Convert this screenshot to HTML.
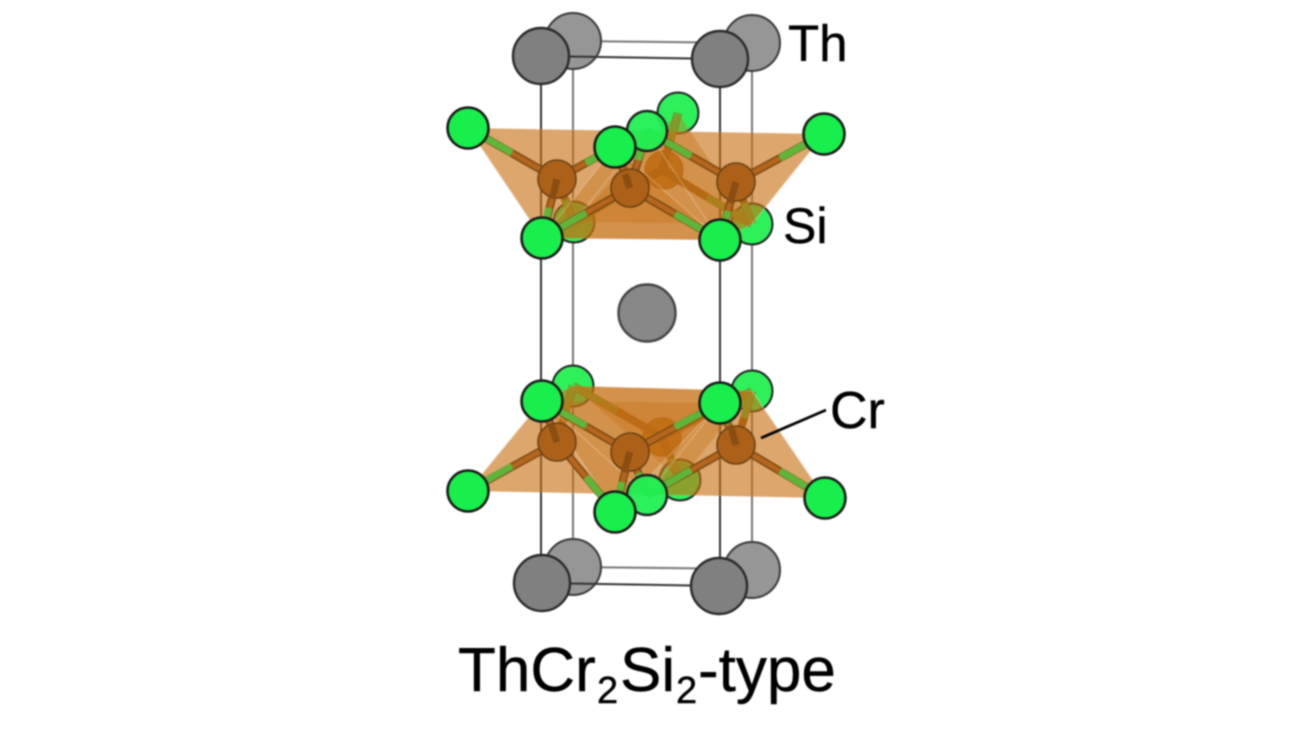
<!DOCTYPE html>
<html>
<head>
<meta charset="utf-8">
<style>
html,body{margin:0;padding:0;background:#fff;width:1299px;height:732px;overflow:hidden}
svg{display:block}
text{font-family:"Liberation Sans",Arial,sans-serif;fill:#000;stroke:#000;stroke-width:.4}
</style>
</head>
<body>
<svg width="1299" height="732" viewBox="0 0 1299 732" xmlns="http://www.w3.org/2000/svg">
<g style="filter:blur(0.7px)">
  <!-- back cell lines -->
  <g stroke="#777" stroke-width="2" fill="none">
    <path d="M573 41V567M752 43V569"/>
    <path d="M573 41L752 43M573 567L752 569"/>
  </g>
  <!-- back Th -->
  <g fill="#969696" stroke="#3a3a3a" stroke-width="2">
    <circle cx="573" cy="41" r="28"/><circle cx="752" cy="43" r="28"/>
    <circle cx="573" cy="567" r="28"/><circle cx="752" cy="570" r="28"/>
  </g>
  <g stroke="#333" stroke-width="2" fill="none">
    <path d="M541 56V582M720 59V585"/>
    <path d="M541 56L720 59M541 583L720 586"/>
  </g>
  <!-- back Si and Cr -->
  <g fill="#2ef05a" stroke="#222" stroke-width="2">
    <circle cx="678" cy="113" r="20.5"/><circle cx="574" cy="222" r="20.5"/><circle cx="752" cy="224" r="20.5"/>
    <circle cx="680" cy="480" r="20.5"/><circle cx="573" cy="386" r="20.5"/><circle cx="752" cy="391" r="20.5"/>
  </g>
  <g fill="#b87428" stroke="#8a5a20" stroke-width="1.2">
    <circle cx="664" cy="170" r="19"/><circle cx="662" cy="437" r="19"/>
  </g>
  <!-- bonds to back atoms, seen through the polyhedra -->
  <path fill="none" stroke="#8a5216" stroke-width="8" d="M662 170L678 113M662 170L574 222M662 170L752 224M662 437L573 386M662 437L680 480M662 437L752 391M557 179L574 222M736 182L752 224M557 442L573 386M736 445L752 391"/>
  <path fill="none" stroke="#5fb53a" stroke-width="7" d="M670 141L678 113M618 196L574 222M707 197L752 224M565 200L574 222M744 203L752 224M617 411L573 386M671 458L680 480M707 414L752 391M565 414L573 386M744 418L752 391"/>
  <!-- polyhedra -->
  <g fill="#c66f14" fill-opacity=".62" stroke="#fff" stroke-opacity=".12" stroke-width="1">
    <path d="M468 128L824 134L752 224L720 240L542 238Z"/>
    <path d="M468 491L542 401L573 386L752 391L825 498Z"/>
  </g>
  <g fill="#c66f14" fill-opacity=".36">
    <path d="M574 222L752 224L678 113Z"/>
    <path d="M542 238L720 240L615 147Z"/>
    <path d="M542 401L720 403L615 512Z"/>
    <path d="M573 386L752 391L680 480Z"/>
  </g>
  <g stroke="#f0dcc4" stroke-opacity=".35" stroke-width="1.2" fill="none">
    <path d="M542 238L615 147M615 147L720 240M647 131L720 240M574 222L647 131M752 224L824 134M468 128L542 238"/>
    <path d="M542 401L647 495M720 403L615 512M720 403L647 495M752 391L825 498M542 401L615 512M468 491L542 401"/>
  </g>
  <!-- bonds -->
  <path fill="none" stroke="#7c4a12" stroke-width="8" d="M557 179L468 128M557 179L615 147M557 179L542 238M736 182L824 134M736 182L647 131M736 182L720 240M630 188L542 238M630 188L720 240M630 188L615 147M630 188L647 131M557 442L468 491M557 442L542 401M557 442L615 512M736 445L825 498M736 445L720 403M736 445L647 495M630 452L542 401M630 452L720 403M630 452L615 512M630 452L647 495"/>
  <path fill="none" stroke="#b5651d" stroke-width="5" d="M557 179L468 128M557 179L615 147M557 179L542 238M736 182L824 134M736 182L647 131M736 182L720 240M630 188L542 238M630 188L720 240M630 188L615 147M630 188L647 131M557 442L468 491M557 442L542 401M557 442L615 512M736 445L825 498M736 445L720 403M736 445L647 495M630 452L542 401M630 452L720 403M630 452L615 512M630 452L647 495"/>
  <path fill="none" stroke="#5fb53a" stroke-width="7" d="M512 153L468 128M586 163L615 147M549 208L542 238M780 158L824 134M691 156L647 131M728 211L720 240M586 213L542 238M675 214L720 240M622 167L615 147M638 160L647 131M512 466L468 491M549 421L542 401M586 477L615 512M780 471L825 498M728 424L720 403M691 470L647 495M586 426L542 401M675 427L720 403M622 482L615 512M638 473L647 495"/>
  <!-- Cr -->
  <g fill="#ad6118" stroke="#6b4214" stroke-width="1.6">
    <circle cx="557" cy="179" r="19"/><circle cx="736" cy="182" r="19"/>
    <circle cx="557" cy="442" r="19"/><circle cx="736" cy="445" r="19"/>
    <circle cx="630" cy="188" r="19"/><circle cx="630" cy="452" r="19"/>
  </g>
  <path fill="none" stroke="#8a4d12" stroke-width="7" d="M557 179L552 199M736 182L730 203M630 188L625 174M630 452L624 472M557 442L551 424M736 445L731 427"/>
  <!-- mid Si -->
  <g fill="#1ef052" fill-opacity=".94" stroke="#222" stroke-width="2.5">
    <circle cx="647" cy="131" r="20"/><circle cx="647" cy="495" r="20"/>
  </g>
  <!-- front Si -->
  <g fill="#18ee4c" stroke="#1a1a1a" stroke-width="2.6">
    <circle cx="468" cy="128" r="20.5"/><circle cx="824" cy="134" r="20.5"/>
    <circle cx="542" cy="238" r="20.5"/><circle cx="720" cy="240" r="20.5"/>
    <circle cx="615" cy="147" r="20.5"/>
    <circle cx="468" cy="491" r="20.5"/><circle cx="825" cy="498" r="20.5"/>
    <circle cx="542" cy="401" r="20.5"/><circle cx="720" cy="403" r="20.5"/>
    <circle cx="615" cy="512" r="20.5"/>
  </g>
  <!-- front Th -->
  <g fill="#808080" stroke="#2a2a2a" stroke-width="2.4">
    <circle cx="541" cy="56" r="28"/><circle cx="720" cy="59" r="28"/>
    <circle cx="542" cy="583" r="28"/><circle cx="719" cy="586" r="28"/>
    <circle cx="647" cy="313" r="28.5" fill="#888" stroke="#444"/>
  </g>
  <!-- Cr leader -->
  <line x1="761" y1="438" x2="826" y2="410" stroke="#000" stroke-width="2.6"/>
  <!-- labels -->
  <text x="788" y="61" font-size="51">Th</text>
  <text x="783" y="243" font-size="50">Si</text>
  <text x="830" y="428" font-size="52">Cr</text>
  <text x="458" y="691" font-size="62">ThCr</text>
  <text x="597" y="703" font-size="38">2</text>
  <text x="620" y="691" font-size="62">Si</text>
  <text x="676" y="703" font-size="38">2</text>
  <text x="698" y="691" font-size="62">-type</text>
</g>
</svg>
</body>
</html>
